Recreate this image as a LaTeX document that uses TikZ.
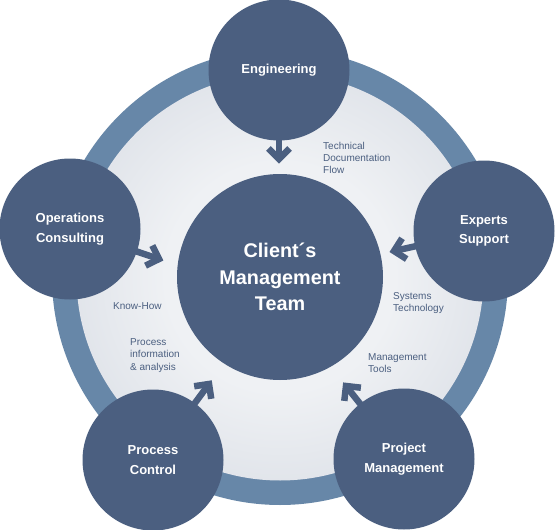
\documentclass[tikz,border=0pt]{standalone}
\usepackage{fontspec}
\setmainfont{Liberation Sans}
\usetikzlibrary{calc}
\definecolor{navy}{HTML}{4B5F80}
\definecolor{ringc}{HTML}{6787A8}
\definecolor{discin}{HTML}{EFF1F4}
\definecolor{discout}{HTML}{C3CAD6}
\pgfdeclareradialshading{discshade}{\pgfpoint{0bp}{0bp}}{color(0bp)=(discin); color(14bp)=(discin); color(50bp)=(discout)}
\begin{document}
\begin{tikzpicture}[x=1pt,y=-1pt,
  sat/.style={circle, fill=navy, minimum size=141pt, inner sep=0pt, text=white, align=center,
    font=\fontsize{13}{19.5}\selectfont\bfseries},
  hub/.style={circle, fill=navy, minimum size=206pt, inner sep=0pt, text=white, align=center,
    font=\fontsize{19.8}{26.5}\selectfont\bfseries},
  flow/.style={draw=navy, line width=6.5pt},
  flowhead/.style={draw=navy, line width=6.5pt, line join=miter, line cap=butt},
  lab/.style={text=navy, align=left, anchor=west, inner sep=0pt,
    font=\fontsize{10}{12.3}\selectfont}]
\useasboundingbox (0,0) rectangle (555,530);
\coordinate (c) at (280,277);
\draw[ringc, line width=25pt] (c) circle[radius=215.5];
\shade[shading=discshade] (c) circle[radius=203.5];
\node[hub] (main) at (c) {Client´s\\Management\\Team};

\node[sat] (eng) at (279,70) {Engineering};
\node[sat] (ops) at (70,229) {Operations\\Consulting};
\node[sat] (exp) at (484,231) {Experts\\Support};
\node[sat] (proc) at (153,460) {Process\\Control};
\node[sat] (proj) at (404,459) {Project\\Management};

\coordinate (tE) at (279,159);
\coordinate (tO) at (159,259);
\coordinate (tX) at (394,251);
\coordinate (tP) at (209,384);
\coordinate (tM) at (346,386);

\draw[flow, shorten <=-6pt] (eng) -- (tE);
\draw[flowhead] ($(tE)!15pt!45:(eng)$) -- (tE) -- ($(tE)!15pt!-45:(eng)$);
\draw[flow, shorten <=-6pt] (ops) -- (tO);
\draw[flowhead] ($(tO)!15pt!45:(ops)$) -- (tO) -- ($(tO)!15pt!-45:(ops)$);
\draw[flow, shorten <=-6pt] (exp) -- (tX);
\draw[flowhead] ($(tX)!15pt!45:(exp)$) -- (tX) -- ($(tX)!15pt!-45:(exp)$);
\draw[flow, shorten <=-6pt] (proc) -- (tP);
\draw[flowhead] ($(tP)!15pt!45:(proc)$) -- (tP) -- ($(tP)!15pt!-45:(proc)$);
\draw[flow, shorten <=-6pt] (proj) -- (tM);
\draw[flowhead] ($(tM)!15pt!45:(proj)$) -- (tM) -- ($(tM)!15pt!-45:(proj)$);

\node[lab] (l1) at (323,158) {Technical\\Documentation\\Flow};
\node[lab] (l2) at (113,306) {Know-How};
\node[lab] (l3) at (130,355.5) {Process\\information\\\& analysis};
\node[lab] (l4) at (393,303) {Systems\\Technology};
\node[lab] (l5) at (368,363) {Management\\Tools};
\end{tikzpicture}
\end{document}
